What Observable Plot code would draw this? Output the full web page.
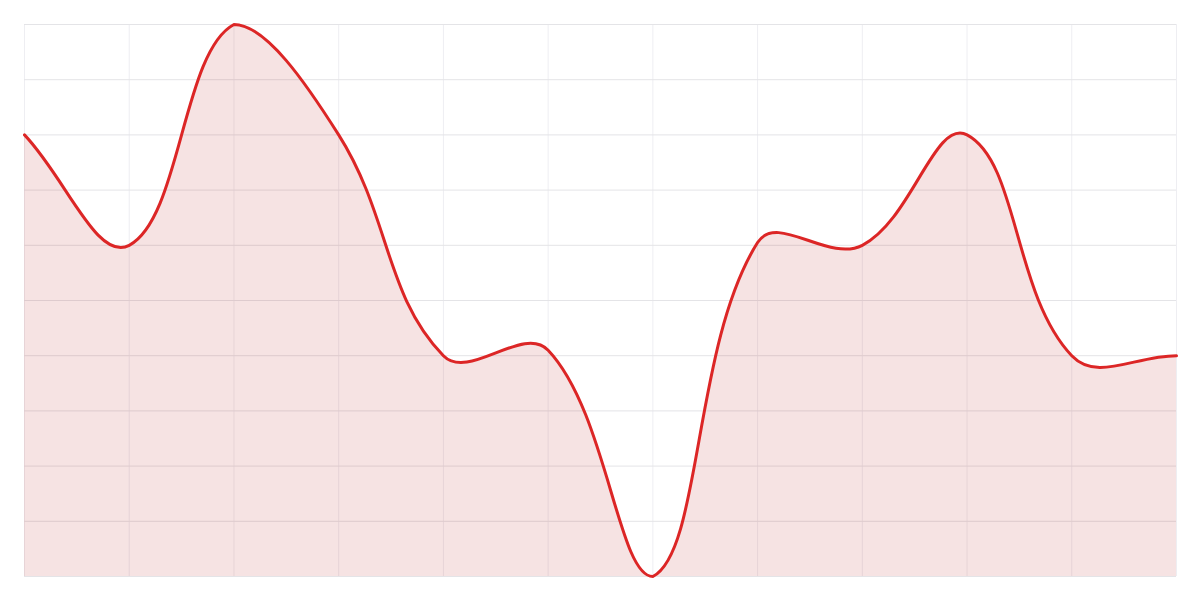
<!DOCTYPE html>
<html><head><meta charset="utf-8">
<script src="https://cdn.jsdelivr.net/npm/d3@7"></script>
<script src="https://cdn.jsdelivr.net/npm/@observablehq/plot@0.6"></script>
<style>body{margin:0;background:#fff;font-family:"Noto Sans",sans-serif}</style>
</head><body><div id="chart"></div>
<script>
const xIndex = [0,1,2,3,4,5,6,7,8,9,10,11];
const values = [8.0, 6.0, 10.0, 8.0, 4.0, 4.1, 0.0, 6.05, 6.0, 8.0, 4.0, 4.0];
const yTicks = [0,1,2,3,4,5,6,7,8,9,10];
const data = xIndex.map((x,i)=>({x, y: values[i]}));

// Bezier spline with distance-weighted control points (tension 0.4), capped to the data extent
function splineCurve(tension) {
  return function(context) {
    let pts, line;
    return {
      areaStart(){ line = 0; },
      areaEnd(){ line = NaN; },
      lineStart(){ pts = []; },
      point(x, y){ pts.push([+x, +y]); },
      lineEnd(){
        const n = pts.length;
        if (n) {
          if (line) context.lineTo(pts[0][0], pts[0][1]); else context.moveTo(pts[0][0], pts[0][1]);
          const xs = pts.map(p=>p[0]), ys = pts.map(p=>p[1]);
          const minX = Math.min(...xs), maxX = Math.max(...xs), minY = Math.min(...ys), maxY = Math.max(...ys);
          const cap = (v, lo, hi) => Math.max(lo, Math.min(hi, v));
          const cp = pts.map((p, i) => {
            const a = pts[i-1] || p, b = pts[i+1] || p;
            const d01 = Math.hypot(p[0]-a[0], p[1]-a[1]);
            const d12 = Math.hypot(b[0]-p[0], b[1]-p[1]);
            let s01 = d01/(d01+d12), s12 = d12/(d01+d12);
            if (!isFinite(s01)) s01 = 0;
            if (!isFinite(s12)) s12 = 0;
            const fa = tension*s01, fb = tension*s12;
            return {
              px: cap(p[0]-fa*(b[0]-a[0]), minX, maxX), py: cap(p[1]-fa*(b[1]-a[1]), minY, maxY),
              nx: cap(p[0]+fb*(b[0]-a[0]), minX, maxX), ny: cap(p[1]+fb*(b[1]-a[1]), minY, maxY)
            };
          });
          for (let i = 1; i < n; i++) {
            context.bezierCurveTo(cp[i-1].nx, cp[i-1].ny, cp[i].px, cp[i].py, pts[i][0], pts[i][1]);
          }
        }
        if (line || (line !== 0 && n === 1)) context.closePath();
        line = 1 - line;
      }
    };
  };
}
const curve = splineCurve(0.4);

const chart = Plot.plot({
  width: 1200, height: 600,
  marginTop: 24, marginRight: 24, marginBottom: 24, marginLeft: 24,
  x: {domain: [0, 11], axis: null},
  y: {domain: [0, 10], axis: null},
  marks: [
    Plot.ruleX(xIndex, {stroke: "#eeeef2", strokeWidth: 1}),
    Plot.ruleY(yTicks, {stroke: "#e4e4e7", strokeWidth: 1}),
    Plot.areaY(data, {x: "x", y: "y", curve, fill: "#b91c1c", fillOpacity: 0.12}),
    Plot.lineY(data, {x: "x", y: "y", curve, stroke: "#dc2626", strokeWidth: 3})
  ]
});
document.getElementById("chart").appendChild(chart);
</script></body></html>
